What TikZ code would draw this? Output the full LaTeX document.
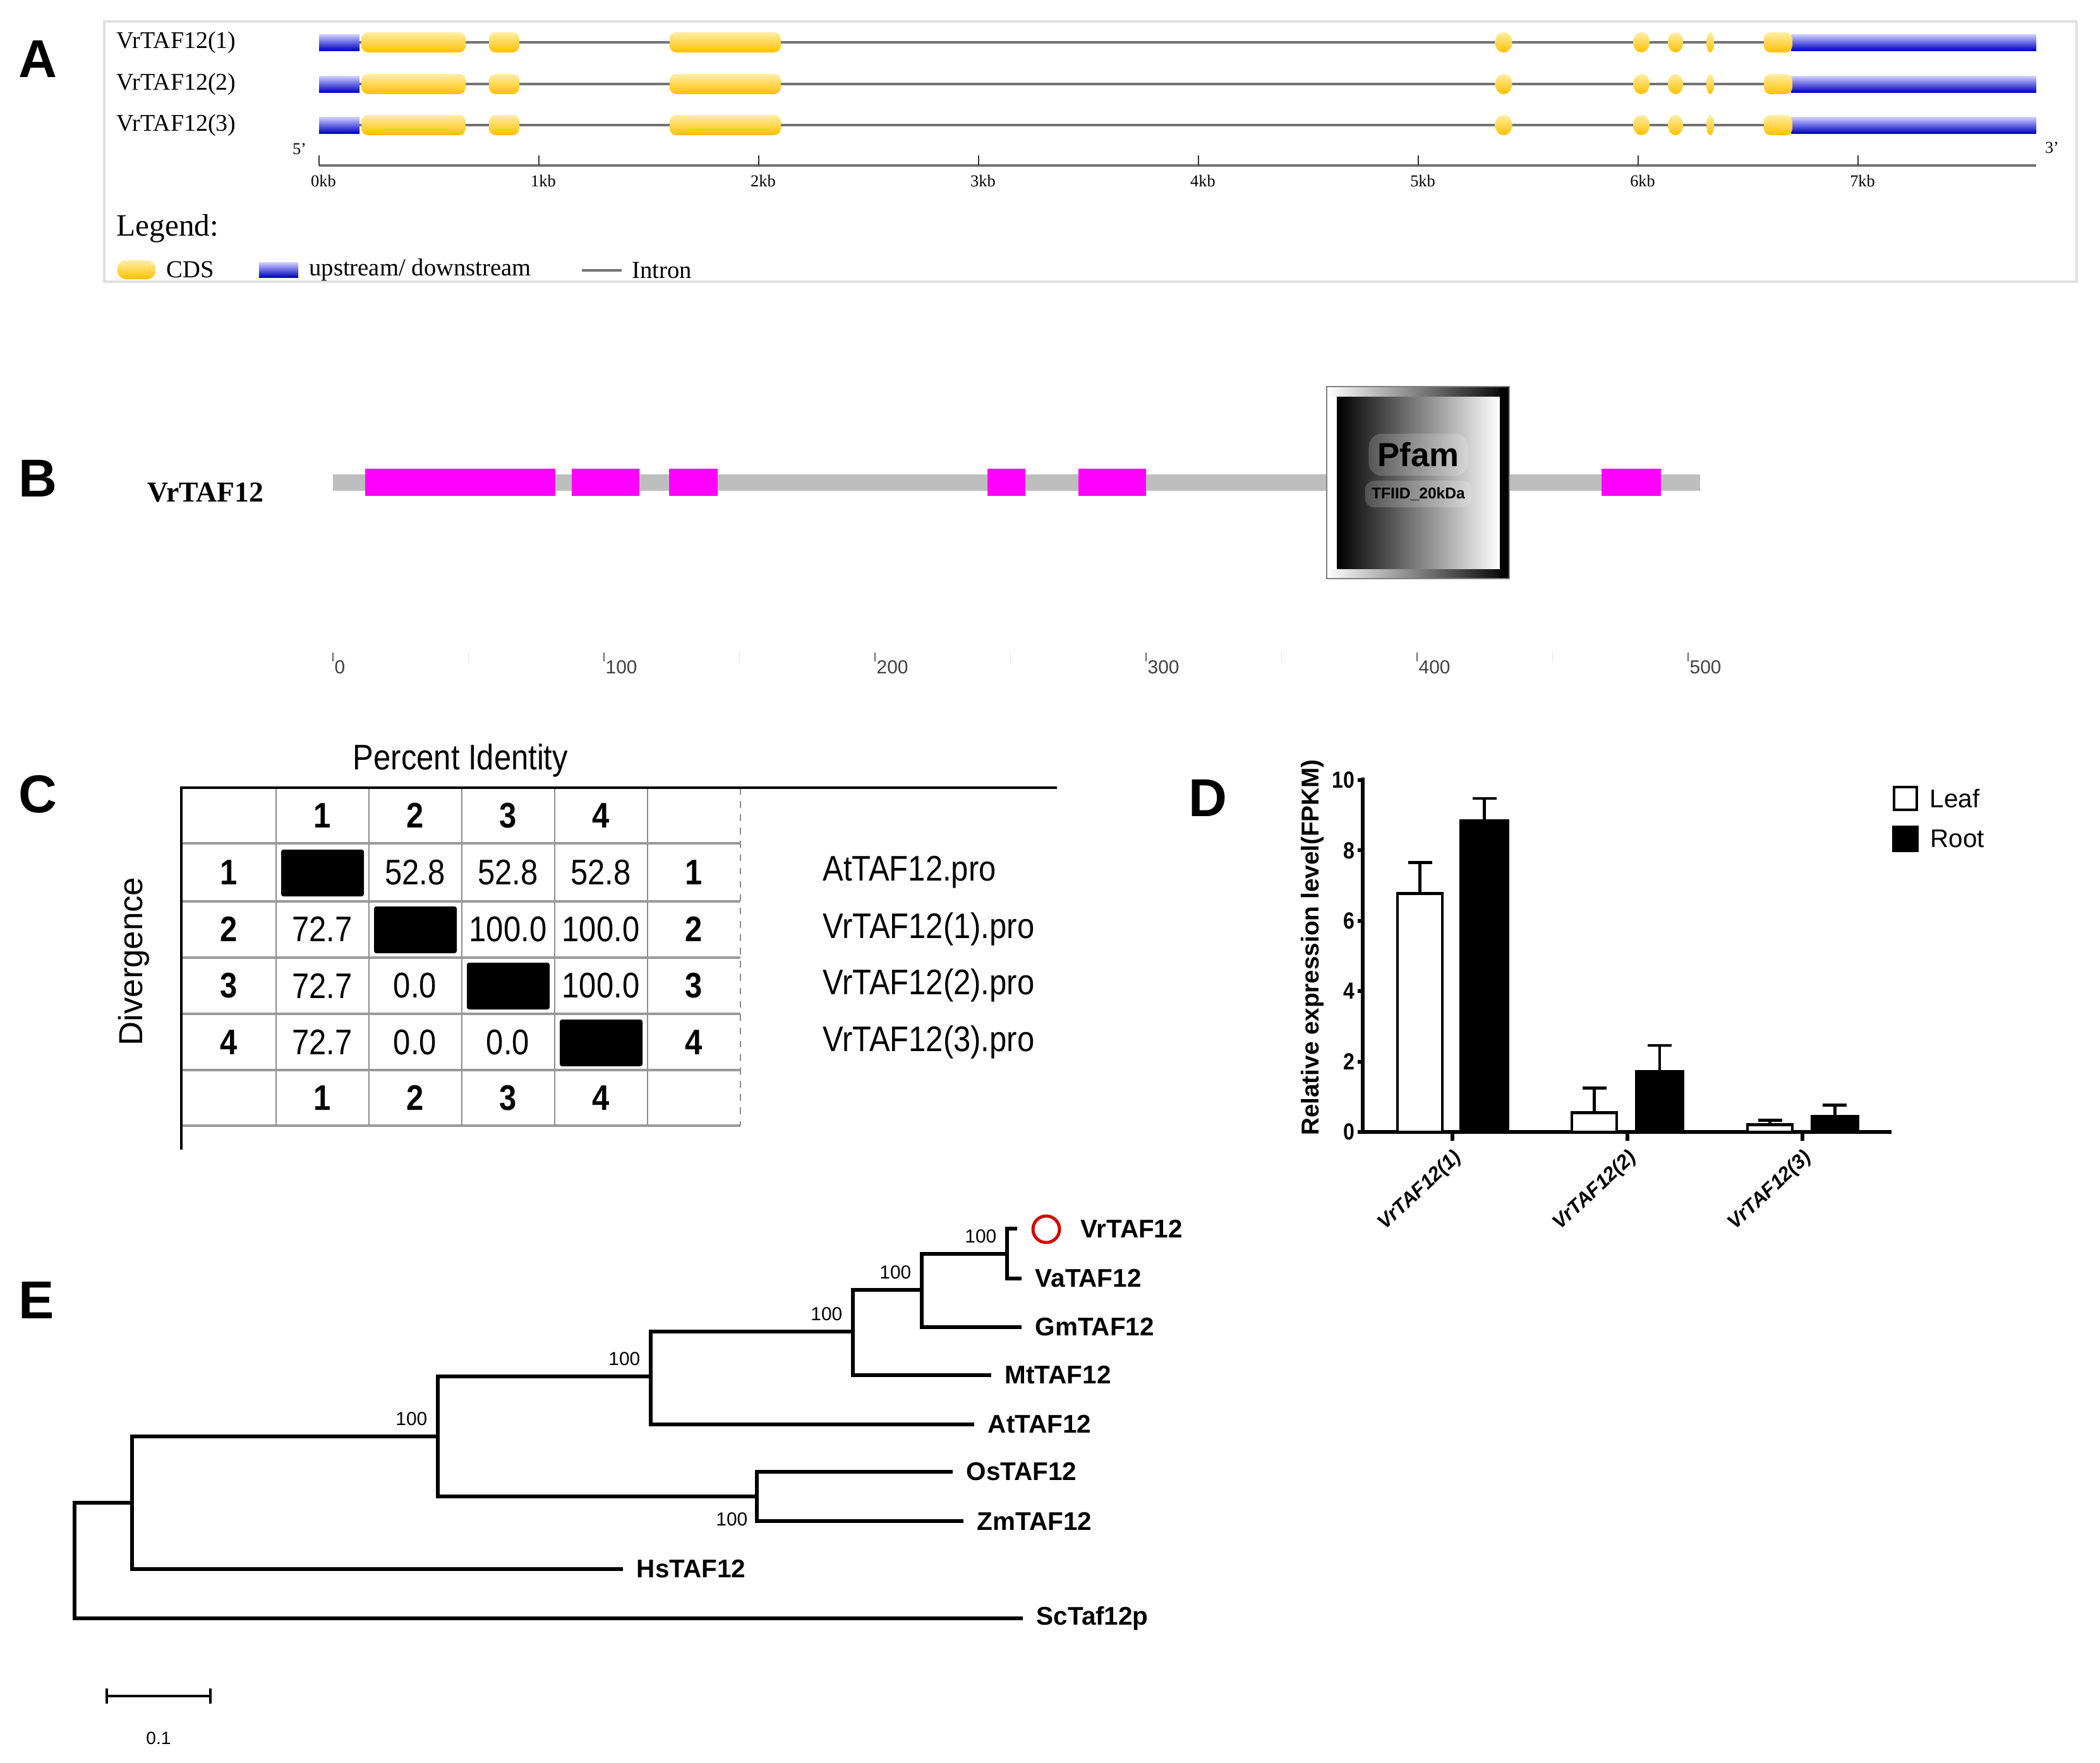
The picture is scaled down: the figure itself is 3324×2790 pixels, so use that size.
\documentclass[tikz,border=0pt]{standalone}
\usepackage{fontspec}
\setmainfont{Liberation Serif}
\setsansfont{Liberation Sans}
\newfontfamily\narrowsf[FakeStretch=0.87]{Liberation Sans}
\usepackage{tikz}
\usetikzlibrary{positioning}
\definecolor{cdsgold}{RGB}{255,192,0}
\definecolor{cdslight}{RGB}{255,238,165}
\definecolor{utrblue}{RGB}{0,0,200}
\definecolor{utrlight}{RGB}{210,210,255}
\definecolor{motifpink}{RGB}{255,0,255}
\definecolor{spinegray}{RGB}{190,190,190}
\definecolor{markred}{RGB}{215,0,0}
\newcommand\setfs[1]{\fontsize{#1}{#1}\selectfont}

\begin{document}
\begin{tikzpicture}[x=0.01cm, y=-0.01cm,
  panel/.style={font=\sffamily\bfseries\setfs{24}, inner sep=0pt},
  genelab/.style={font=\setfs{10.8}, anchor=west, inner sep=0pt},
  kblab/.style={font=\setfs{7.5}, inner sep=0pt},
  intron/.style={line width=1.4pt, draw=black!55},
  cds/.style={top color=cdslight, bottom color=cdsgold},
  utr/.style={top color=utrlight, bottom color=utrblue},
  legtxt/.style={font=\setfs{11}, anchor=west, inner sep=0pt},
  aalab/.style={font=\sffamily\setfs{8.5}, text=black!75, anchor=west, inner sep=0pt},
  cellnum/.style={font=\narrowsf\setfs{16}, inner sep=0pt},
  cellbold/.style={font=\narrowsf\bfseries\setfs{16}, inner sep=0pt},
  gridline/.style={draw=black!45, line width=0.8pt},
  rowline/.style={draw=black!40, line width=1.2pt},
  frame/.style={line width=1.2pt},
  axis/.style={line width=1.7pt},
  ytick/.style={font=\narrowsf\bfseries\setfs{10.5}, anchor=east, inner sep=0pt},
  xlab/.style={font=\sffamily\bfseries\itshape\setfs{9}, rotate=43, anchor=east, inner sep=0pt},
  legsans/.style={font=\sffamily\setfs{11.5}, inner sep=0pt},
  leafbar/.style={draw=black, fill=white, line width=1.4pt},
  rootbar/.style={draw=black, fill=black, line width=1.4pt},
  errbar/.style={line width=1.4pt},
  branch/.style={line width=1.6pt},
  leaf/.style={font=\sffamily\bfseries\setfs{11.5}, anchor=west, inner xsep=6pt, inner ysep=0pt},
  boot/.style={font=\sffamily\setfs{8.5}, inner sep=0pt}]
\useasboundingbox (0,0) rectangle (3324,2790);

% ---- A: gene structure
\draw[black!12, line width=0.9pt] (165,34) rectangle (3287,446);
\node[panel] (la) at (60,93) {A};
\foreach \row/\y in {1/67,2/133,3/198} {
  \node[genelab] (gene\row) at (184,\y) {VrTAF12(\row)};
  \draw[intron] (569,\y) -- (2835,\y);
  \shade[utr] (505,\y-13) rectangle (569,\y+13);
  \shade[utr] (2835,\y-13) rectangle (3223,\y+13);
  \shade[cds, rounded corners=3pt] (572,\y-16) rectangle (737,\y+16);
  \shade[cds, rounded corners=3pt] (774,\y-16) rectangle (822,\y+16);
  \shade[cds, rounded corners=3pt] (1060,\y-16) rectangle (1236,\y+16);
  \shade[cds] (2380,\y) ellipse [x radius=0.135cm, y radius=0.16cm];
  \shade[cds] (2598,\y) ellipse [x radius=0.13cm, y radius=0.16cm];
  \shade[cds] (2652,\y) ellipse [x radius=0.12cm, y radius=0.16cm];
  \shade[cds] (2707,\y) ellipse [x radius=0.06cm, y radius=0.16cm];
  \shade[cds, rounded corners=3pt] (2792,\y-16) rectangle (2837,\y+16);
}
\draw[intron] (505,262) -- (3223,262);
\foreach \n in {0,...,7} {
  \draw[black!80, line width=0.6pt] (505+348*\n,246) -- ++(0,16);
  \node[kblab] (kb\n) at (512+348*\n,286) {\n kb};
}
\node[kblab] (five) at (474,236) {5'};
\node[kblab] (three) at (3248,234) {3'};
\node[font=\setfs{14}, anchor=west, inner sep=0pt] (legend) at (184,362) {Legend:};
\node[cds, rounded corners=4pt, minimum width=0.61cm, minimum height=0.30cm, inner sep=0pt] (cdskey) at (216,427) {};
\node[legtxt, right=0.16cm of cdskey] (cdstxt) {CDS};
\node[utr, minimum width=0.62cm, minimum height=0.24cm, inner sep=0pt] (utrkey) at (441,427) {};
\node[legtxt, right=0.16cm of utrkey] (utrtxt) {upstream/ downstream};
\draw[intron] (921,428) -- (984,428);
\node[legtxt] (introntxt) at (1000,428) {Intron};

% ---- B: protein domains
\node[panel] (lb) at (60,757) {B};
\node[font=\bfseries\setfs{13}, anchor=west, inner sep=0pt] (prot) at (233,780) {VrTAF12};
\fill[spinegray] (527,751) rectangle (2691,777);
\foreach \a/\b in {12/82, 88/113, 124/142, 241.5/255.5, 275/300, 468/490}
  \fill[motifpink] ({527+4.29*\a},742) rectangle ({527+4.29*\b},785);
\shade[left color=white, right color=black] (2100,612) rectangle (2389,628);
\shade[left color=white, right color=black] (2100,900) rectangle (2389,916);
\fill[white] (2100,628) rectangle (2116,900);
\shade[left color=black, right color=white] (2116,628) rectangle (2374,900);
\fill[black] (2374,612) rectangle (2389,916);
\draw[black!50, line width=0.5pt] (2100,612) rectangle (2389,916);
\node[font=\sffamily\bfseries\setfs{15}, fill=white, fill opacity=0.18, text opacity=1, rounded corners=6pt, inner sep=4pt] (pfam) at (2245,720) {Pfam};
\node[font=\sffamily\bfseries\setfs{7}, fill=white, fill opacity=0.18, text opacity=1, rounded corners=4pt, inner sep=3pt] (tfiid) at (2245,782) {TFIID\_20kDa};
\foreach \val in {0,100,...,500} {
  \draw[black!60, line width=0.5pt] ({527+4.29*\val},1033) -- ++(0,14);
  \node[aalab] (aa\val) at ({529+4.29*\val},1056) {\val};
}
\foreach \val in {50,150,...,450}
  \draw[black!12, line width=0.5pt] ({527+4.29*\val},1033) -- ++(0,14);

% ---- C: identity matrix
\node[panel] (lc) at (60,1257) {C};
\node[font=\narrowsf\setfs{16}, inner sep=0pt] (pid) at (729,1204) {Percent Identity};
\node[font=\sffamily\setfs{15}, rotate=90, inner sep=0pt] (div) at (212,1522) {Divergence};
\foreach \x in {437,584,731,878,1025} \draw[gridline] (\x,1247) -- (\x,1782);
\draw[gridline, dashed, line width=0.5pt] (1172,1247) -- (1172,1782);
\foreach \y in {1335,1427,1516,1605,1694,1782} \draw[rowline] (287,\y) -- (1172,\y);
\draw[frame] (287,1820) -- (287,1247) -- (1673,1247);
\foreach \n/\x in {1/510,2/657,3/804,4/951} {
  \node[cellbold] (h\n) at (\x,1291) {\n};
  \node[cellbold] (f\n) at (\x,1738) {\n};
}
\foreach \n/\y/\name in {1/1381/AtTAF12.pro, 2/1471/VrTAF12(1).pro, 3/1560/VrTAF12(2).pro, 4/1650/VrTAF12(3).pro} {
  \node[cellbold] (rl\n) at (362,\y) {\n};
  \node[cellbold] (rr\n) at (1098,\y) {\n};
  \node[cellnum, anchor=west] (seq\n) at (1302,\y) {\name};
  \fill[black, rounded corners=1pt] ({437+147*(\n-1)+8},\y-36) rectangle ({437+147*\n-8},\y+38);
}
\foreach \row/\col/\val in {1/2/52.8, 1/3/52.8, 1/4/52.8, 2/1/72.7, 2/3/100.0, 2/4/100.0,
    3/1/72.7, 3/2/0.0, 3/4/100.0, 4/1/72.7, 4/2/0.0, 4/3/0.0}
  \node[cellnum] (v\row\col) at ({510+147*(\col-1)},{1381+89.7*(\row-1)}) {\val};

% ---- D: expression bars
\node[panel] (ld) at (1912,1263) {D};
\draw[axis] (2157,1231) -- (2157,1792) -- (2994,1792);
\foreach \val in {0,2,...,10} {
  \draw[axis] (2157,{1792-55.7*\val}) -- ++(-8,0);
  \node[ytick] (yt\val) at (2145,{1792-55.7*\val}) {\val};
}
\foreach \g/\x in {1/2299,2/2576,3/2853} {
  \draw[axis] (\x,1792) -- ++(0,14);
  \node[xlab] (xl\g) at (\x+10,1828) {VrTAF12(\g)};
}
\foreach \a/\b/\val/\err in {2212/2283/6.77/7.65, 2488/2559/0.55/1.25, 2766/2837/0.20/0.33} {
  \draw[errbar] ({(\a+\b)/2},{1792-55.7*\val}) -- ({(\a+\b)/2},{1792-55.7*\err}) ++(-19,0) -- ++(38,0);
  \draw[leafbar] (\a,1792) rectangle (\b,{1792-55.7*\val});
}
\foreach \a/\b/\val/\err in {2312/2387/8.84/9.48, 2590/2664/1.71/2.46, 2868/2940/0.45/0.77} {
  \draw[errbar] ({(\a+\b)/2},{1792-55.7*\val}) -- ({(\a+\b)/2},{1792-55.7*\err}) ++(-19,0) -- ++(38,0);
  \draw[rootbar] (\a,1792) rectangle (\b,{1792-55.7*\val});
}
\node[font=\sffamily\bfseries\setfs{11}, rotate=90, inner sep=0pt] (ylab) at (2077,1500) {Relative expression level(FPKM)};
\node[draw, line width=1.1pt, fill=white, minimum size=0.36cm, inner sep=0pt] (leafkey) at (3016,1264) {};
\node[legsans, right=0.18cm of leafkey] (leaftxt) {Leaf};
\node[draw, line width=1.1pt, fill=black, minimum size=0.38cm, inner sep=0pt] (rootkey) at (3016,1328) {};
\node[legsans, right=0.18cm of rootkey] (roottxt) {Root};

% ---- E: tree
\node[panel] (le) at (58,2058) {E};
\coordinate (root) at (118,2470);
\coordinate (n1) at (209,2379);
\coordinate (n2) at (693,2274);
\coordinate (n3) at (1198,2369);
\coordinate (n4) at (1030,2179);
\coordinate (n5) at (1350,2108);
\coordinate (n6) at (1459,2042);
\coordinate (n7) at (1594,1985);
\coordinate (vrtip) at (1610,1945);
\node[draw=markred, line width=1.4pt, circle, minimum size=0.42cm, inner sep=0pt] (mark) at (1656,1946) {};
\node[leaf] (vr) at (1689,1945) {VrTAF12};
\node[leaf] (va) at (1617,2024) {VaTAF12};
\node[leaf] (gm) at (1617,2101) {GmTAF12};
\node[leaf] (mt) at (1569,2177) {MtTAF12};
\node[leaf] (at) at (1542,2255) {AtTAF12};
\node[leaf] (os) at (1508,2330) {OsTAF12};
\node[leaf] (zm) at (1525,2408) {ZmTAF12};
\node[leaf] (hs) at (986,2484) {HsTAF12};
\node[leaf] (sc) at (1619,2562) {ScTaf12p};
\draw[branch] (vrtip) -| (n7) |- (va);
\draw[branch] (n7) -| (n6) |- (gm);
\draw[branch] (n6) -| (n5) |- (mt);
\draw[branch] (n5) -| (n4) |- (at);
\draw[branch] (n4) -| (n2) |- (n3);
\draw[branch] (os) -| (n3) |- (zm);
\draw[branch] (n2) -| (n1) |- (hs);
\draw[branch] (n1) -| (root) |- (sc);
\foreach \k in {n7,n6,n5,n4,n2}
  \node[boot, anchor=south east] (b\k) at ([xshift=-0.16cm, yshift=0.17cm]\k) {100};
\node[boot, anchor=north east] (bn3) at ([xshift=-0.14cm, yshift=-0.25cm]n3) {100};
\coordinate (sb0) at (169,2685);
\coordinate (sb1) at (333,2685);
\draw[branch, line width=1.2pt] (sb0) -- (sb1);
\draw[branch, line width=1.2pt] (sb0) ++(0,-12) -- ++(0,24);
\draw[branch, line width=1.2pt] (sb1) ++(0,-12) -- ++(0,24);
\node[boot, font=\sffamily\setfs{8}] (sbl) at (251,2752) {0.1};
\end{tikzpicture}
\end{document}
